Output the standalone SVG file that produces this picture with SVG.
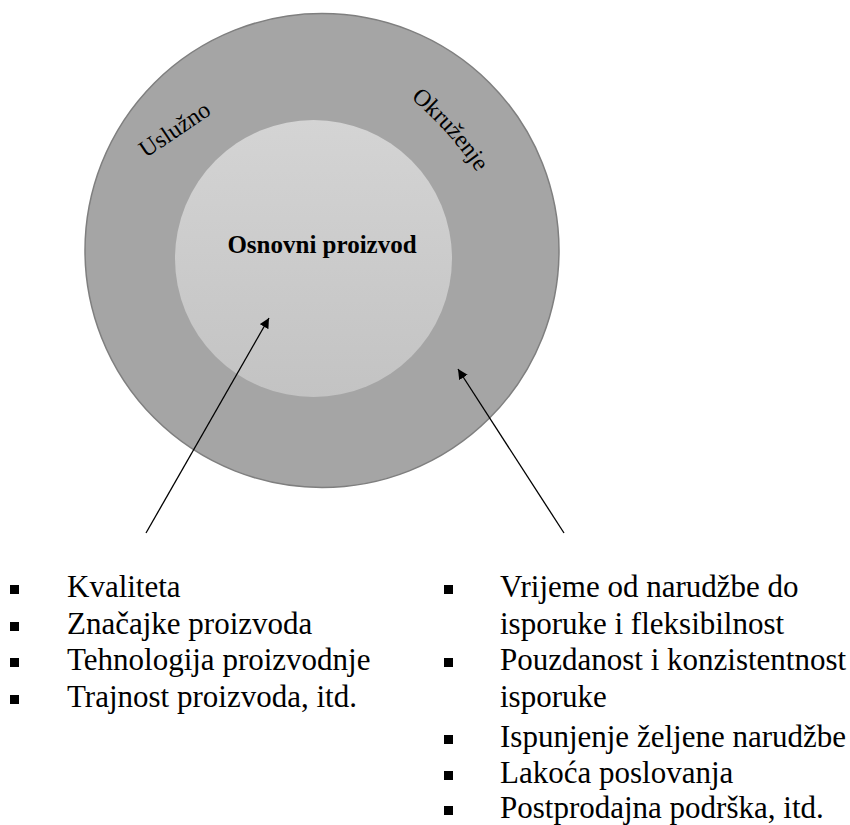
<svg xmlns="http://www.w3.org/2000/svg" width="850" height="825" viewBox="0 0 850 825">
<style>
.lbl{font-family:"Liberation Serif","Times New Roman",serif;fill:#000}
.arc{font-family:"Liberation Serif","Times New Roman",serif;font-size:24px;fill:#000}
.bul{fill:#000}
.conn{stroke:#000;stroke-width:1.3;fill:none}
</style>
<defs>
<linearGradient id="innerGrad" x1="0" y1="0" x2="0" y2="1">
<stop offset="0" stop-color="#d4d4d4"/>
<stop offset="1" stop-color="#c3c3c3"/>
</linearGradient>
<marker id="arrow" viewBox="0 0 10 10" refX="10" refY="5" markerWidth="10" markerHeight="10" markerUnits="userSpaceOnUse" orient="auto">
<path d="M0,0 L10,5 L0,10 z" fill="#000"/>
</marker>
<path id="okrPath" d="M 400 89 Q 455 134 484 184"/>
</defs>

<g id="outer">
<circle cx="322" cy="250.5" r="237" fill="#a5a5a5" stroke="#7f7f7f" stroke-width="1.5"/>
<text class="arc" transform="translate(179,136) rotate(-34)" text-anchor="middle">Uslužno</text>
<text class="arc"><textPath href="#okrPath" startOffset="50%" text-anchor="middle">Okruženje</textPath></text>
</g>

<g id="inner">
<circle cx="313.5" cy="258.5" r="138.5" fill="url(#innerGrad)"/>
<text class="lbl" x="322" y="253" font-size="25" font-weight="bold" text-anchor="middle">Osnovni proizvod</text>
</g>

<g id="connectors">
<line class="conn" x1="146" y1="533" x2="269" y2="318" marker-end="url(#arrow)"/>
<line class="conn" x1="564" y1="533" x2="458" y2="369" marker-end="url(#arrow)"/>
</g>

<g id="list-left" font-family="'Liberation Serif', 'Times New Roman', serif" font-size="31" fill="#000">
<rect class="bul" x="10" y="585" width="9" height="9"/>
<text x="67" y="597">Kvaliteta</text>
<rect class="bul" x="10" y="622" width="9" height="9"/>
<text x="67" y="634">Značajke proizvoda</text>
<rect class="bul" x="10" y="658" width="9" height="9"/>
<text x="67" y="670">Tehnologija proizvodnje</text>
<rect class="bul" x="10" y="695" width="9" height="9"/>
<text x="67" y="707">Trajnost proizvoda, itd.</text>
</g>

<g id="list-right" font-family="'Liberation Serif', 'Times New Roman', serif" font-size="31" fill="#000">
<rect class="bul" x="444" y="585" width="9" height="9"/>
<text x="500" y="597">Vrijeme od narudžbe do</text>
<text x="500" y="634">isporuke i fleksibilnost</text>
<rect class="bul" x="444" y="658" width="9" height="9"/>
<text x="500" y="670">Pouzdanost i konzistentnost</text>
<text x="500" y="707">isporuke</text>
<rect class="bul" x="444" y="735" width="9" height="9"/>
<text x="500" y="747">Ispunjenje željene narudžbe</text>
<rect class="bul" x="444" y="771" width="9" height="9"/>
<text x="500" y="783">Lakoća poslovanja</text>
<rect class="bul" x="444" y="806" width="9" height="9"/>
<text x="500" y="818">Postprodajna podrška, itd.</text>
</g>
</svg>
